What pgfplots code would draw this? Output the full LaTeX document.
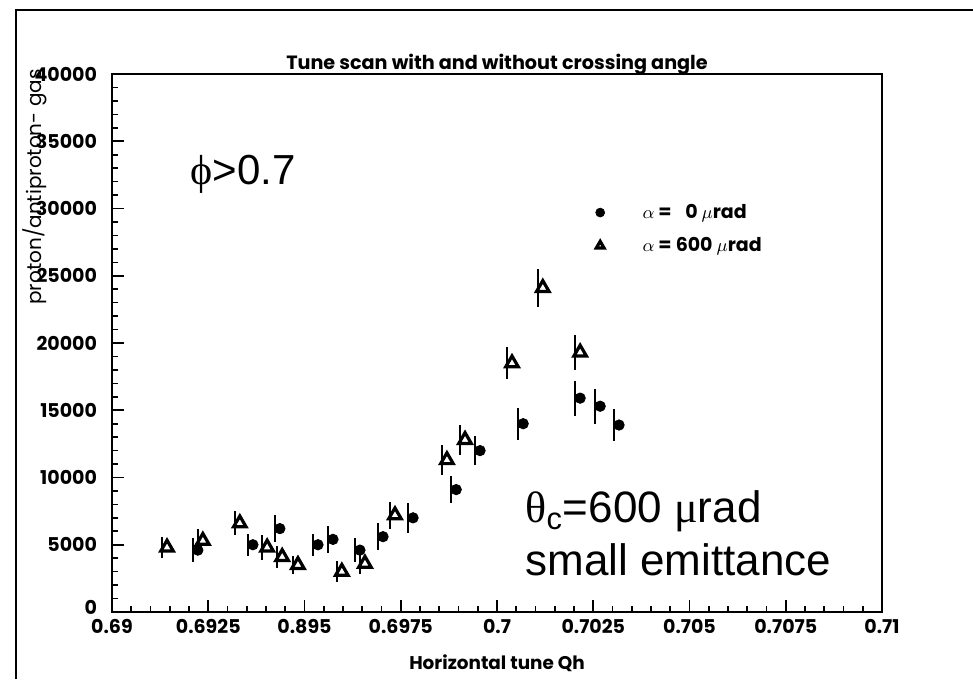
\documentclass[border=0pt]{standalone}
\usepackage{fontspec}
\setmainfont{Poppins}
\newfontfamily\arial{Liberation Sans}
\newfontfamily\greek{Liberation Serif}
\usepackage{pgfplots}
\pgfplotsset{compat=1.18}

\pgfplotstableread{
x        y      e
0.69210  4600   900
0.69353  5000   800
0.69423  6200   1000
0.69522  5000   800
0.69561  5400   1000
0.69631  4600   900
0.69691  5600   1000
0.69769  7000   1100
0.69881  9100   1000
0.69943  12000  1100
0.70055  14000  1200
0.70203  15900  1300
0.70255  15300  1300
0.70304  13900  1200
}\zerorad

\pgfplotstableread{
x        y      e
0.69130  4800   800
0.69223  5300   900
0.69319  6600   900
0.69390  4800   900
0.69429  4100   800
0.69470  3500   700
0.69584  3000   800
0.69644  3600   800
0.69722  7200   1000
0.69857  11300  1100
0.69904  12800  1100
0.70026  18500  1200
0.70106  24100  1400
0.70203  19300  1300
}\sixhundred

\begin{document}
\begin{tikzpicture}
  \begin{axis}[
    scale only axis,
    width=385pt, height=269pt,
    xmin=0.69, xmax=0.71,
    ymin=0, ymax=40000,
    axis line style={line width=1pt},
    tick align=inside,
    xtick pos=bottom, ytick pos=left,
    xtick={0.69,0.6925,0.695,0.6975,0.7,0.7025,0.705,0.7075,0.71},
    xticklabels={0.69,0.6925,0.895,0.6975,0.7,0.7025,0.705,0.7075,0.71},
    ytick={0,5000,...,40000},
    yticklabels={\raisebox{5pt}{0},5000,10000,15000,20000,25000,30000,35000,40000},
    scaled y ticks=false,
    minor x tick num=4, minor y tick num=4,
    major tick length=6pt, minor tick length=3pt,
    every tick/.style={black, line width=0.8pt},
    /pgf/number format/.cd, 1000 sep={}, assume math mode=true, /pgfplots/.cd,
    ticklabel style={font=\fontsize{9.5}{10}\selectfont\bfseries},
    yticklabel style={xshift=-4pt},
    title={Tune scan with and without crossing angle},
    title style={font=\fontsize{9.6}{11}\selectfont\bfseries, yshift=-10pt},
    xlabel={Horizontal tune Qh},
    xlabel style={font=\fontsize{9.2}{10}\selectfont\bfseries, yshift=-4pt},
    clip=false,
    legend style={draw=none, fill=none, at={(0.62,0.774)}, anchor=north west,
      font=\fontsize{9.5}{11}\selectfont\bfseries, row sep=4pt,
      /tikz/every odd column/.append style={column sep=17pt}},
    legend cell align=left,
  ]
    \addplot[only marks, mark=*, mark size=2.6pt, mark options={xshift=2.5pt},
      legend image post style={mark size=2.2pt},
      error bars/.cd, y dir=both, y explicit, error mark=none,
      error bar style={line width=1pt}]
      table[x=x, y=y, y error=e] {\zerorad};
    \addlegendentry{$\alpha$ =\enspace\ 0 $\mu$rad}

    \addplot[only marks, mark=triangle, mark size=3.6pt,
      mark options={xshift=2.5pt, line width=1.6pt, fill=white},
      legend image post style={mark=triangle*, mark size=2.2pt},
      error bars/.cd, y dir=both, y explicit, error mark=none,
      error bar style={line width=1pt}]
      table[x=x, y=y, y error=e] {\sixhundred};
    \addlegendentry{$\alpha$ = 600 $\mu$rad}

    \node[rotate=90, font=\fontsize{10}{11}\selectfont] at (rel axis cs:-0.1,0.79)
      {proton/antiproton- gas};
    \node[anchor=base west, font=\arial\fontsize{21}{24}\selectfont, inner sep=0pt]
      at (axis cs:0.69203,31750) {{\greek ϕ}>0.7};
    \node[anchor=base west, font=\arial\fontsize{22}{26}\selectfont, inner sep=0pt]
      at (axis cs:0.70073,6620) {{\greek θ}\textsubscript{c}=600 {\greek μ}rad};
    \node[anchor=base west, font=\arial\fontsize{22}{26}\selectfont, inner sep=0pt]
      at (axis cs:0.70073,2750) {small emittance};
  \end{axis}
  \draw[line width=1pt] (-48pt,-33.5pt) -- (-48pt,301pt) -- (430.5pt,301pt);
  \pgfresetboundingbox
  \path[use as bounding box] (-56pt,-33.5pt) rectangle (430.5pt,306pt);
\end{tikzpicture}
\end{document}
